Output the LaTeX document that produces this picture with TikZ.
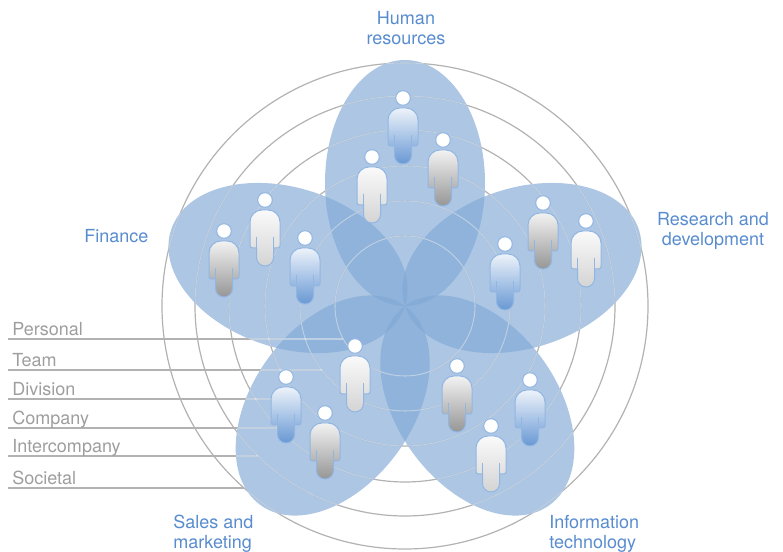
\documentclass[tikz,border=0pt]{standalone}
\usepackage{fontspec}
\setmainfont{TeX Gyre Heros}
\usepackage{tikz}
\usetikzlibrary{calc}
\usepackage{color}
\definecolor{petalblue}{RGB}{128,168,213}
\definecolor{ringgray}{RGB}{178,178,178}
\definecolor{labelblue}{RGB}{88,140,206}
\definecolor{legendgray}{RGB}{158,158,158}
\definecolor{edgeblue}{RGB}{146,182,226}
\definecolor{manblue}{RGB}{104,152,212}
\definecolor{mangray}{RGB}{150,150,150}
\definecolor{manwhite}{RGB}{212,212,212}
\tikzset{
	ring/.style={draw=ringgray, line width=0.9pt},
	level/.style={draw=ringgray, line width=1.5pt},
	petal/.style={fill=petalblue, fill opacity=0.65},
	shine/.style={draw=white, draw opacity=0.45, line width=0.8pt},
	title/.style={text=labelblue, font=\fontsize{13.5}{15}\selectfont, inner sep=0pt},
	legend/.style={text=legendgray, font=\fontsize{13.5}{15}\selectfont, inner sep=0pt, anchor=base west},
	pics/person/.style={code={
		\draw[edgeblue, line width=0.75pt, top color=#1!12!white, bottom color=#1]
			(-8.5,-48) -- (-8.5,-57.5) arc (180:360:8.5) -- (8.5,-48) -- (12.5,-48)
			arc (270:360:2.5) -- (15,-22) arc (0:90:12) -- (-3,-10) arc (90:180:12)
			-- (-15,-45.5) arc (180:270:2.5) -- cycle;
		\draw[edgeblue, line width=0.75pt] (-8.5,-48) -- (-8.5,-37) (8.5,-48) -- (8.5,-37);
		\draw[edgeblue, line width=0.75pt, fill=white] (0,0) circle [radius=7.3];
	}}
}

\begin{document}
\begin{tikzpicture}[x=0.75pt, y=0.75pt]
		\useasboundingbox (0,0) rectangle (783,-552);
		\coordinate (hub) at (405,-306);
		\foreach \r in {70,105,140,176,210,243}
			\draw[ring] (hub) circle [radius=\r];
		\foreach \lab/\y/\r in {Personal/339/70, Team/370/105, Division/399/140, Company/428/176, Intercompany/456/210, Societal/488/243} {
			\pgfmathsetmacro{\ex}{405-10*sqrt((\r/10)^2-((\y-306)/10)^2)}
			\draw[level] (8,-\y) -- (\ex,-\y);
			\node[legend] at (12,-\y+3.5) {\lab};
		}
		\foreach \a in {90,18,-54,-126,162}
			\fill[petal] (hub) ++(\a:123) ellipse [x radius=123, y radius=80, rotate=\a];
		\begin{scope}
			\clip foreach \a in {90,18,-54,-126,162} { (hub) ++(\a:123) ellipse [x radius=123, y radius=80, rotate=\a] };
			\foreach \r in {70,105,140,176,210,243}
				\draw[shine] (hub) circle [radius=\r];
			\foreach \y/\r in {339/70, 370/105, 399/140, 428/176, 456/210, 488/243} {
				\pgfmathsetmacro{\ex}{405-10*sqrt((\r/10)^2-((\y-306)/10)^2)}
				\draw[shine] (8,-\y) -- (\ex,-\y);
			}
		\end{scope}
		\foreach \x/\y/\col in {403/98/manblue, 443/140/mangray, 372/157/manwhite,
			224/231/mangray, 265/200/manwhite, 305/238/manblue,
			505/244/manblue, 543/203/mangray, 586/221/manwhite,
			457/366/mangray, 530/380/manblue, 491/426/manwhite,
			355/346/manwhite, 286/377/manblue, 325/413/mangray}
			\pic at (\x,-\y) {person=\col};
		\node[title, align=center] (hr) at (406,-28) {Human\\resources};
		\node[title, anchor=west] (fin) at (84,-236) {Finance};
		\node[title, align=center] (rd) at (713,-231) {Research and\\development};
		\node[title, align=left, anchor=west] (it) at (549,-534) {Information\\technology};
		\node[title, align=left, anchor=west] (sm) at (173,-534) {Sales and\\marketing};
	\end{tikzpicture}
\end{document}
